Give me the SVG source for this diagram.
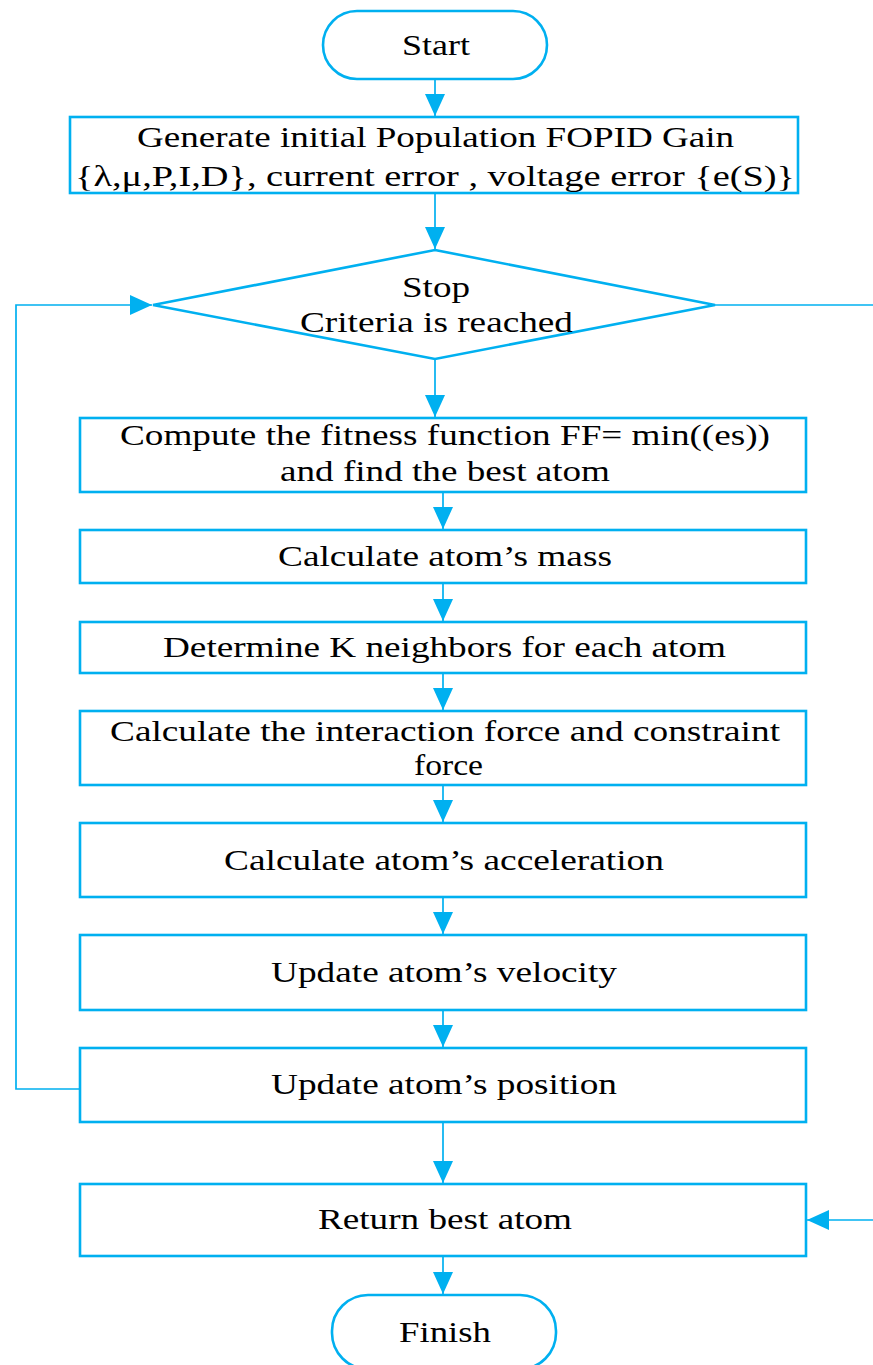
<svg xmlns="http://www.w3.org/2000/svg" width="873" height="1365" viewBox="0 0 873 1365">
<style>
.s{fill:#fff;stroke:#00B0F0;stroke-width:2.6}
.c{fill:none;stroke:#00B0F0;stroke-width:1.7}
text{font-family:"Liberation Serif","Times New Roman",serif;font-size:29px;fill:#000;text-anchor:middle}
</style>
<defs>
<marker id="a" markerUnits="userSpaceOnUse" markerWidth="24" markerHeight="20" refX="22" refY="10" orient="auto">
<path d="M0,0 L22,10 L0,20 Z" fill="#00B0F0"/>
</marker>
</defs>
<g id="connectors">
<path class="c" d="M435,79 V116" marker-end="url(#a)"/>
<path class="c" d="M435,193 V249" marker-end="url(#a)"/>
<path class="c" d="M435,359 V417" marker-end="url(#a)"/>
<path class="c" d="M443,492 V529" marker-end="url(#a)"/>
<path class="c" d="M443,583 V621" marker-end="url(#a)"/>
<path class="c" d="M443,673 V710" marker-end="url(#a)"/>
<path class="c" d="M443,785 V822" marker-end="url(#a)"/>
<path class="c" d="M443,897 V934" marker-end="url(#a)"/>
<path class="c" d="M443,1010 V1047" marker-end="url(#a)"/>
<path class="c" d="M443,1122 V1183" marker-end="url(#a)"/>
<path class="c" d="M443,1256 V1294" marker-end="url(#a)"/>
<path class="c" d="M80,1089 H16 V305 H152" marker-end="url(#a)"/>
<path class="c" d="M715,305 H873"/>
<path class="c" d="M873,1220 H807" marker-end="url(#a)"/>
</g>
<g id="start">
<rect class="s" x="323" y="11" width="224" height="68" rx="34"/>
<text x="436" y="55" textLength="68" lengthAdjust="spacingAndGlyphs">Start</text>
</g>
<g id="init">
<rect class="s" x="70" y="117" width="728" height="76"/>
<text x="435.5" y="147" textLength="597" lengthAdjust="spacingAndGlyphs">Generate initial Population FOPID Gain</text>
<text x="435" y="186" textLength="720" lengthAdjust="spacingAndGlyphs">{λ,μ,P,I,D}, current error , voltage error {e(S)}</text>
</g>
<g id="stop">
<path class="s" d="M435,250 L715,305 L435,359 L153,305 Z"/>
<text x="436" y="297" textLength="68" lengthAdjust="spacingAndGlyphs">Stop</text>
<text x="436.5" y="332" textLength="273" lengthAdjust="spacingAndGlyphs">Criteria is reached</text>
</g>
<g id="fitness">
<rect class="s" x="80" y="418" width="726" height="74"/>
<text x="445" y="445" textLength="650" lengthAdjust="spacingAndGlyphs">Compute the fitness function FF= min((es))</text>
<text x="445" y="481" textLength="330" lengthAdjust="spacingAndGlyphs">and find the best atom</text>
</g>
<g id="mass">
<rect class="s" x="80" y="530" width="726" height="53"/>
<text x="445" y="566" textLength="334" lengthAdjust="spacingAndGlyphs">Calculate atom’s mass</text>
</g>
<g id="neighbors">
<rect class="s" x="80" y="622" width="726" height="51"/>
<text x="444.5" y="657" textLength="563" lengthAdjust="spacingAndGlyphs">Determine K neighbors for each atom</text>
</g>
<g id="force">
<rect class="s" x="80" y="711" width="726" height="74"/>
<text x="445" y="741" textLength="670" lengthAdjust="spacingAndGlyphs">Calculate the interaction force and constraint</text>
<text x="448.5" y="775" textLength="69" lengthAdjust="spacingAndGlyphs">force</text>
</g>
<g id="accel">
<rect class="s" x="80" y="823" width="726" height="74"/>
<text x="444" y="870" textLength="440" lengthAdjust="spacingAndGlyphs">Calculate atom’s acceleration</text>
</g>
<g id="velocity">
<rect class="s" x="80" y="935" width="726" height="75"/>
<text x="444" y="982" textLength="346" lengthAdjust="spacingAndGlyphs">Update atom’s velocity</text>
</g>
<g id="position">
<rect class="s" x="80" y="1048" width="726" height="74"/>
<text x="444" y="1094" textLength="346" lengthAdjust="spacingAndGlyphs">Update atom’s position</text>
</g>
<g id="return">
<rect class="s" x="80" y="1184" width="726" height="72"/>
<text x="445" y="1229" textLength="254" lengthAdjust="spacingAndGlyphs">Return best atom</text>
</g>
<g id="finish">
<rect class="s" x="332" y="1295" width="224" height="74" rx="36"/>
<text x="445" y="1342" textLength="92" lengthAdjust="spacingAndGlyphs">Finish</text>
</g>
</svg>
